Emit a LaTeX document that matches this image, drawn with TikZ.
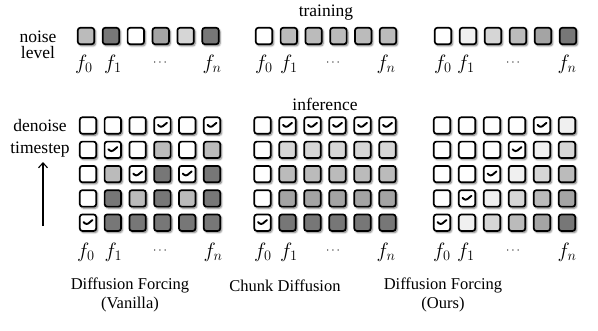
\documentclass[tikz,border=0pt]{standalone}
\usepackage{fontspec}
\setmainfont{Liberation Serif}
\usetikzlibrary{shadows.blur,arrows.meta}
\definecolor{g1}{HTML}{F0F0F0}
\definecolor{g2}{HTML}{D6D6D6}
\definecolor{g3}{HTML}{BBBBBB}
\definecolor{g4}{HTML}{A4A4A4}
\definecolor{g5}{HTML}{777777}
\begin{document}
\begin{tikzpicture}[x=1pt,y=-1pt,
  sq/.style={draw=black, line width=1.7pt, rounded corners=2.5pt, minimum size=16.4pt, inner sep=0pt,
    blur shadow={shadow xshift=1.4pt, shadow yshift=-1.6pt, shadow blur radius=1.8pt, shadow blur steps=6, shadow opacity=55}},
  cell-w/.style={fill=white},
  cell-c/.style={fill=white, path picture={\draw[line width=1.9pt, line cap=round, line join=round]
      ([shift={(-4.4pt,0.6pt)}]path picture bounding box.center) -- ++(2.9pt,-2.9pt) -- ++(6pt,5pt);}},
  cell-1/.style={fill=g1}, cell-2/.style={fill=g2}, cell-3/.style={fill=g3},
  cell-4/.style={fill=g4}, cell-5/.style={fill=g5},
  lab/.style={font=\fontsize{20}{22}\selectfont, inner sep=0pt},
  dots/.style={font=\fontsize{12}{14}\selectfont, inner sep=0pt},
  txt/.style={font=\fontsize{16.5}{19}\selectfont, inner sep=0pt, align=center},
  txtb/.style={font=\fontsize{17.5}{19}\selectfont, inner sep=0pt, align=center},
]
\useasboundingbox (0,0) rectangle (598,330);

% ---------- top (training) rows ----------
\foreach \cell [count=\i] in {3,5,w,4,2,5}
  \node[sq, cell-\cell] (ta-\i) at ({86+24.9*(\i-1)},36) {};
\foreach \cell [count=\i] in {w,3,3,3,3,3}
  \node[sq, cell-\cell] (tb-\i) at ({264+24.8*(\i-1)},36) {};
\foreach \cell [count=\i] in {w,1,2,3,4,5}
  \node[sq, cell-\cell] (tc-\i) at ({443+25*(\i-1)},36) {};

% ---------- bottom (inference) grids ----------
\foreach \row [count=\r] in {{w,w,w,c,w,c},{w,c,w,3,w,3},{w,3,c,5,c,5},{w,5,3,5,3,5},{c,5,5,5,5,5}}
  \foreach \cell [count=\i] in \row
    \node[sq, cell-\cell] (ba-\r-\i) at ({88+24.8*(\i-1)},{125.5+24.3*(\r-1)}) {};
\foreach \row [count=\r] in {{w,c,c,c,c,c},{w,2,2,2,2,2},{w,3,3,3,3,3},{w,4,4,4,4,4},{c,5,5,5,5,5}}
  \foreach \cell [count=\i] in \row
    \node[sq, cell-\cell] (bb-\r-\i) at ({262.5+25*(\i-1)},{125.5+24.3*(\r-1)}) {};
\foreach \row [count=\r] in {{w,w,w,w,c,1},{w,w,w,c,1,2},{w,w,c,1,2,3},{w,c,1,2,3,4},{c,1,2,3,4,5}}
  \foreach \cell [count=\i] in \row
    \node[sq, cell-\cell] (bc-\r-\i) at ({442+25*(\i-1)},{125.5+24.3*(\r-1)}) {};

% ---------- frame labels ----------
\node[lab] (la0) at (84,64.5) {$f_0$};
\node[lab] (la1) at (113,64.5) {$f_1$};
\node[dots] (lad) at (160,63) {$\cdots$};
\node[lab] (lan) at (212,64.5) {$f_n$};
\node[lab] (lb0) at (264,64.5) {$f_0$};
\node[lab] (lb1) at (289,64.5) {$f_1$};
\node[dots] (lbd) at (333,63) {$\cdots$};
\node[lab] (lbn) at (386,64.5) {$f_n$};
\node[lab] (lc0) at (443,64.5) {$f_0$};
\node[lab] (lc1) at (466,64.5) {$f_1$};
\node[dots] (lcd) at (513,63) {$\cdots$};
\node[lab] (lcn) at (567,64.5) {$f_n$};

\node[lab] (ma0) at (86,252) {$f_0$};
\node[lab] (ma1) at (113.5,252) {$f_1$};
\node[dots] (mad) at (160,250.5) {$\cdots$};
\node[lab] (man) at (213,252) {$f_n$};
\node[lab] (mb0) at (263,252) {$f_0$};
\node[lab] (mb1) at (289,252) {$f_1$};
\node[dots] (mbd) at (333,250.5) {$\cdots$};
\node[lab] (mbn) at (386,252) {$f_n$};
\node[lab] (mc0) at (442,252) {$f_0$};
\node[lab] (mc1) at (466,252) {$f_1$};
\node[dots] (mcd) at (513,250.5) {$\cdots$};
\node[lab] (mcn) at (567,252) {$f_n$};

% ---------- texts ----------
\node[txtb] (noise) at (38,37) {noise};
\node[txtb] (level) at (38,53) {level};
\node[txtb] (training) at (326,13) {training};
\node[txtb] (inference) at (325,104) {inference};
\node[txtb] (denoise) at (40,126) {denoise};
\node[txtb] (timestep) at (40,150) {timestep};
\coordinate (arrA) at (43,226);
\coordinate (arrB) at (43,162);
\draw[line width=1.1pt, -{Straight Barb[length=5pt,width=9pt]}] (arrA) -- (arrB);

\node[txt] (titleA) at (130,294.5) {Diffusion Forcing\\(Vanilla)};
\node[txt] (titleB) at (285,285.5) {Chunk Diffusion};
\node[txt] (titleC) at (443,294.5) {Diffusion Forcing\\(Ours)};
\end{tikzpicture}
\end{document}
